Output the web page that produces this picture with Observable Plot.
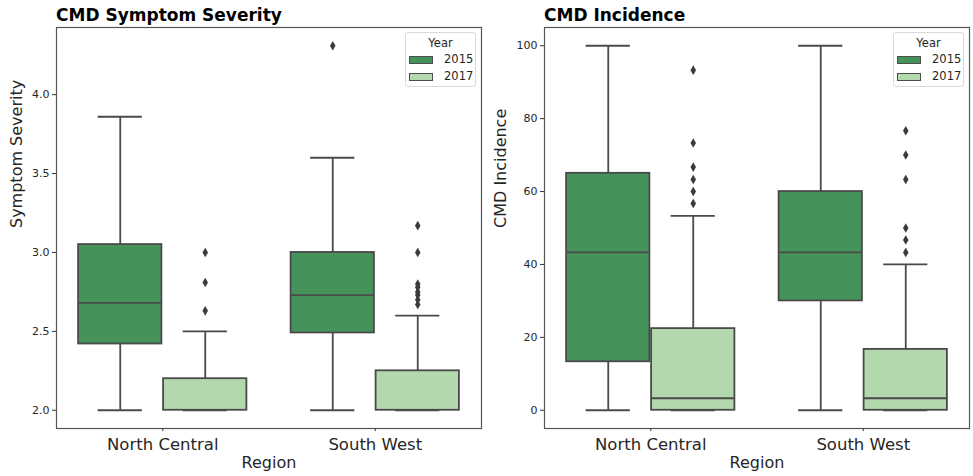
<!DOCTYPE html>
<html>
<head>
<meta charset="utf-8">
<script src="https://cdn.jsdelivr.net/npm/d3@7"></script>
<script src="https://cdn.jsdelivr.net/npm/@observablehq/plot@0.6"></script>
<style>
  body { margin: 0; background: #fff; font-family: "DejaVu Sans", sans-serif; }
  #wrap { position: relative; width: 973px; height: 476px; overflow: hidden; }
  .panel { position: absolute; top: 0; }
  .title { position: absolute; top: 7px; font-weight: bold; font-size: 17px; line-height: 17px; color: #000; white-space: nowrap; }
  .legend { position: absolute; top: 32px; width: 69px; height: 53px; border: 1px solid #d9d9d9; border-radius: 3px; background: rgba(255,255,255,0.8); font-size: 11.5px; color: #262626; }
  .legend .lt { position: absolute; top: 3px; left: 0; width: 100%; text-align: center; }
  .legend .row { position: absolute; left: 3px; height: 14px; }
  .legend .sw { position: absolute; left: 0; top: 3px; width: 22px; height: 6px; border: 1px solid #4d4d4d; }
  .legend .lab { position: absolute; left: 35px; top: 0; line-height: 13px; }
</style>
</head>
<body>
<div id="wrap"></div>
<script>
// ---- data ----
const regions = ["North Central", "South West"];
const years = ["2015", "2017"];
const yearColors = ["#45935a", "#b3d8ad"];

// order of each array: NC 2015, NC 2017, SW 2015, SW 2017
const sevLow    = [2.0, 2.0, 2.0, 2.0];
const sevQ1     = [2.42, 2.0, 2.49, 2.0];
const sevMedian = [2.68, 2.0, 2.73, 2.0];
const sevQ3     = [3.05, 2.2, 3.0, 2.25];
const sevHigh   = [3.86, 2.5, 3.6, 2.6];
const sevOutliers = [[], [3.0, 2.81, 2.63], [4.31], [3.17, 3.0, 2.8, 2.78, 2.75, 2.73, 2.7, 2.67]];
const sevTicks = [2.0, 2.5, 3.0, 3.5, 4.0];

const incLow    = [0, 0, 0, 0];
const incQ1     = [13.3, 0, 30, 0];
const incMedian = [43.3, 3.3, 43.3, 3.3];
const incQ3     = [65, 22.4, 60, 16.7];
const incHigh   = [100, 53.3, 100, 40];
const incOutliers = [[], [93.3, 73.3, 66.7, 63.3, 60, 56.7], [], [76.7, 70, 63.3, 50, 46.7, 43.3]];
const incTicks = [0, 20, 40, 60, 80, 100];

// ---- build tables ----
const boxHalf = 0.196, capHalf = 0.104, hueWidth = 0.4;
function buildRows(low, q1, med, q3, high) {
  const rows = [];
  regions.forEach((r, ri) => years.forEach((y, yi) => {
    const k = ri * years.length + yi;
    rows.push({region: r, year: y, pos: ri + (yi - 0.5) * hueWidth,
      low: low[k], q1: q1[k], median: med[k], q3: q3[k], high: high[k]});
  }));
  return rows;
}
function buildOut(outs) {
  const rows = [];
  regions.forEach((r, ri) => years.forEach((y, yi) => {
    const k = ri * years.length + yi;
    outs[k].forEach(v => rows.push({year: y, pos: ri + (yi - 0.5) * hueWidth, v}));
  }));
  return rows;
}

const lineC = "#4a4a4a", lw = 1.8;

function panel({rows, outs, ticks, fmt, ylabel, width, marginLeft, marginRight, labelDx}) {
  const vals = rows.flatMap(d => [d.low, d.high]).concat(outs.map(d => d.v));
  const lo = d3.min(vals), hi = d3.max(vals), pad = (hi - lo) * 0.05;
  return Plot.plot({
    width, height: 476,
    marginLeft, marginRight, marginTop: 27, marginBottom: 48,
    style: {fontFamily: "DejaVu Sans, sans-serif", color: "#262626", background: "white", overflow: "visible"},
    x: {domain: [-0.5, 1.5], axis: null},
    y: {domain: [lo - pad, hi + pad], axis: null},
    color: {domain: years, range: yearColors},
    marks: [
      Plot.ruleX(rows, {x: "pos", y1: "low", y2: "high", stroke: lineC, strokeWidth: lw}),
      Plot.ruleY(rows, {y: "low", x1: d => d.pos - capHalf, x2: d => d.pos + capHalf, stroke: lineC, strokeWidth: lw}),
      Plot.ruleY(rows, {y: "high", x1: d => d.pos - capHalf, x2: d => d.pos + capHalf, stroke: lineC, strokeWidth: lw}),
      Plot.rect(rows, {x1: d => d.pos - boxHalf, x2: d => d.pos + boxHalf, y1: "q1", y2: "q3", fill: "year", stroke: lineC, strokeWidth: lw}),
      Plot.ruleY(rows.filter(d => d.median > d.q1), {y: "median", x1: d => d.pos - boxHalf, x2: d => d.pos + boxHalf, stroke: lineC, strokeWidth: lw}),
      Plot.dot(outs, {x: "pos", y: "v", symbol: "diamond", r: 2.9, fill: "#3a3a3a", stroke: "none"}),
      Plot.frame({stroke: "#555", strokeWidth: 1.2}),
      Plot.axisY({ticks, tickFormat: fmt, tickSize: 4, tickPadding: 3, fontSize: 11, label: null, stroke: "#333"}),
      Plot.axisX({ticks: [0, 1], tickFormat: i => regions[i], tickSize: 3, tickPadding: 7, fontSize: 16.5, label: null, stroke: "#333"}),
      Plot.text([ylabel], {frameAnchor: "left", rotate: -90, dx: labelDx, fontSize: 16, fill: "#262626"}),
      Plot.text(["Region"], {frameAnchor: "bottom", dy: 39, fontSize: 16, fill: "#262626"})
    ]
  });
}

const wrap = document.getElementById("wrap");
function addPanel(left, svg, title, titleLeft, legendLeft) {
  const p = document.createElement("div");
  p.className = "panel"; p.style.left = left + "px";
  p.appendChild(svg);
  wrap.appendChild(p);
  const t = document.createElement("div");
  t.className = "title"; t.style.left = titleLeft + "px"; t.textContent = title;
  wrap.appendChild(t);
  const lg = document.createElement("div");
  lg.className = "legend"; lg.style.left = legendLeft + "px";
  let html = '<div class="lt">Year</div>';
  years.forEach((y, i) => {
    html += `<div class="row" style="top:${20 + i * 17}px"><div class="sw" style="background:${yearColors[i]}"></div><div class="lab">${y}</div></div>`;
  });
  lg.innerHTML = html;
  wrap.appendChild(lg);
}

const left = panel({
  rows: buildRows(sevLow, sevQ1, sevMedian, sevQ3, sevHigh),
  outs: buildOut(sevOutliers), ticks: sevTicks, fmt: d3.format(".1f"),
  ylabel: "Symptom Severity", width: 486, marginLeft: 56, marginRight: 5, labelDx: -40
});
const right = panel({
  rows: buildRows(incLow, incQ1, incMedian, incQ3, incHigh),
  outs: buildOut(incOutliers), ticks: incTicks, fmt: d3.format("d"),
  ylabel: "CMD Incidence", width: 487, marginLeft: 58, marginRight: 4, labelDx: -44
});
addPanel(0, left, "CMD Symptom Severity", 56, 405);
addPanel(486, right, "CMD Incidence", 544, 893);
</script>
</body>
</html>
